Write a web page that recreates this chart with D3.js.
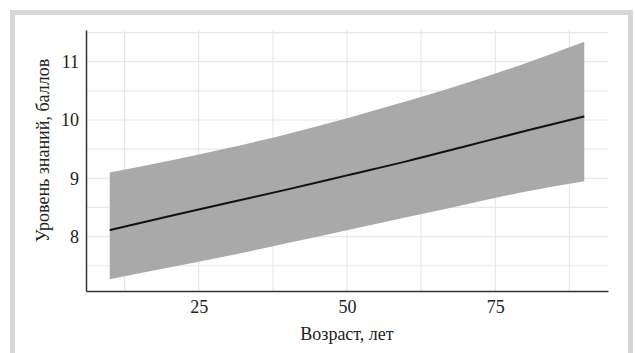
<!DOCTYPE html>
<html>
<head>
<meta charset="utf-8">
<script src="https://cdn.jsdelivr.net/npm/d3@7"></script>
<style>
	body { margin: 0; background: #fff; }
	svg { display: block; }
</style>
</head>
<body>
<div id="chart"></div>
<script>
// values
const ages = [10, 20, 30, 40, 50, 60, 70, 80, 90];
const fitValues = [8.11, 8.35, 8.58, 8.81, 9.05, 9.29, 9.55, 9.81, 10.06];
const upperValues = [9.10, 9.30, 9.52, 9.76, 10.03, 10.32, 10.63, 10.97, 11.34];
const lowerValues = [7.27, 7.47, 7.67, 7.89, 8.11, 8.33, 8.55, 8.77, 8.95];
const xTicks = [25, 50, 75];
const xMinor = [12.5, 37.5, 62.5, 87.5];
const yTicks = [8, 9, 10, 11];
const yMinor = [7.5, 8.5, 9.5, 10.5, 11.5];

const W = 635, H = 353;
const margin = { top: 30, right: 27, bottom: 62, left: 86 };
const width = W - margin.left - margin.right;
const height = H - margin.top - margin.bottom;

const svgRoot = d3.select("#chart").append("svg")
	.attr("width", W)
	.attr("height", H);

// panel frame
svgRoot.append("rect")
	.attr("x", 12.5).attr("y", 12.5)
	.attr("width", 618).attr("height", 345)
	.attr("fill", "#fff")
	.attr("stroke", "#d6d6d6")
	.attr("stroke-width", 5);

const svg = svgRoot.append("g")
	.attr("transform", `translate(${margin.left},${margin.top})`);

const data = ages.map((a, i) => ({ age: a, fit: fitValues[i], lo: lowerValues[i], hi: upperValues[i] }));

// ggplot-like 5% expansion
const xr = d3.extent(ages);
const xPad = (xr[1] - xr[0]) * 0.05;
const x = d3.scaleLinear().domain([xr[0] - xPad, xr[1] + xPad]).range([0, width]);
const yr = [d3.min(lowerValues), d3.max(upperValues)];
const yPad = (yr[1] - yr[0]) * 0.05;
const y = d3.scaleLinear().domain([yr[0] - yPad, yr[1] + yPad]).range([height, 0]);

// grid
svg.append("g").selectAll("line")
	.data(yMinor.concat(yTicks))
	.enter().append("line")
	.attr("x1", 0).attr("x2", width)
	.attr("y1", d => y(d)).attr("y2", d => y(d))
	.attr("stroke", "#e8e8e8").attr("stroke-width", 1.2);

svg.append("g").selectAll("line")
	.data(xMinor.concat(xTicks))
	.enter().append("line")
	.attr("y1", 0).attr("y2", height)
	.attr("x1", d => x(d)).attr("x2", d => x(d))
	.attr("stroke", "#e8e8e8").attr("stroke-width", 1.2);

// confidence band
const area = d3.area()
	.x(d => x(d.age))
	.y0(d => y(d.lo))
	.y1(d => y(d.hi))
	.curve(d3.curveMonotoneX);

svg.append("path")
	.datum(data)
	.attr("d", area)
	.attr("fill", "#a9a9a9");

const line = d3.line()
	.x(d => x(d.age))
	.y(d => y(d.fit))
	.curve(d3.curveMonotoneX);

svg.append("path")
	.datum(data)
	.attr("d", line)
	.attr("fill", "none")
	.attr("stroke", "#111")
	.attr("stroke-width", 2);

// axes
const font = "'Liberation Serif', 'Times New Roman', serif";

const xAxis = svg.append("g")
	.attr("transform", `translate(0,${height})`)
	.call(d3.axisBottom(x).tickValues(xTicks).tickSize(0).tickPadding(9));
xAxis.select(".domain").attr("stroke", "#333").attr("stroke-width", 1.5);
xAxis.selectAll("text")
	.attr("fill", "#222")
	.style("font-family", font)
	.style("font-size", "18px");

const yAxis = svg.append("g")
	.call(d3.axisLeft(y).tickValues(yTicks).tickFormat(d3.format("d")).tickSize(0).tickPadding(7));
yAxis.select(".domain").attr("stroke", "#333").attr("stroke-width", 1.5);
yAxis.selectAll("text")
	.attr("fill", "#222")
	.style("font-family", font)
	.style("font-size", "18px");

svg.append("text")
	.attr("x", width / 2)
	.attr("y", height + 49)
	.attr("text-anchor", "middle")
	.attr("fill", "#222")
	.style("font-family", font)
	.style("font-size", "18px")
	.text("Возраст, лет");

svg.append("text")
	.attr("transform", `translate(-37,${height / 2 - 10}) rotate(-90)`)
	.attr("text-anchor", "middle")
	.attr("fill", "#222")
	.style("font-family", font)
	.style("font-size", "18px")
	.text("Уровень знаний, баллов");
</script>
</body>
</html>
